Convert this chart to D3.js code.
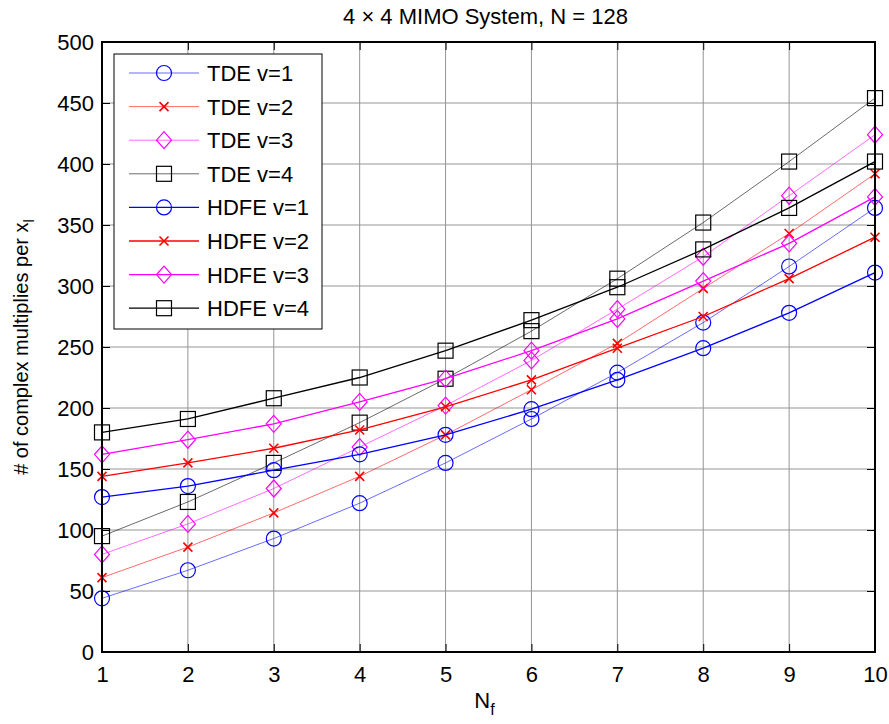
<!DOCTYPE html>
<html>
<head>
<meta charset="utf-8">
<script src="https://cdn.jsdelivr.net/npm/d3@7"></script>
<style>
  body { margin: 0; background: #fff; }
  svg text { font-family: "Liberation Sans", Arial, sans-serif; fill: #000; }
</style>
</head>
<body>
<script>
const WIDTH = 889;
const HEIGHT = 724;
const MARGIN = {top: 42, right: 14, bottom: 72, left: 102};

// x values (N_f)
const NF = [1, 2, 3, 4, 5, 6, 7, 8, 9, 10];
const Y_TICKS = [0, 50, 100, 150, 200, 250, 300, 350, 400, 450, 500];

// TDE series
const TDE_V1 = [44, 67, 93, 122, 155, 191, 229, 270, 316, 364];
const TDE_V2 = [61, 86, 114, 144, 178, 215, 253, 298, 343, 392];
const TDE_V3 = [80, 105, 134, 168, 202, 239, 281, 324, 374, 424];
const TDE_V4 = [95, 123, 155, 188, 224, 263, 306, 352, 402, 454];
// HDFE series
const HDFE_V1 = [127, 136, 149, 162, 178, 199, 223, 249, 278, 311];
const HDFE_V2 = [144, 155, 167, 182, 201, 223, 249, 275, 306, 340];
const HDFE_V3 = [162, 174, 187, 205, 224, 247, 273, 304, 335, 373];
const HDFE_V4 = [180, 191, 208, 225, 247, 272, 299, 330, 364, 402];

const LABELS = ["TDE v=1", "TDE v=2", "TDE v=3", "TDE v=4",
                "HDFE v=1", "HDFE v=2", "HDFE v=3", "HDFE v=4"];

const series = [
  {name: LABELS[0], values: TDE_V1, color: "#0000ff", marker: "circle", thin: true},
  {name: LABELS[1], values: TDE_V2, color: "#ff0000", marker: "x", thin: true},
  {name: LABELS[2], values: TDE_V3, color: "#ff00ff", marker: "diamond", thin: true},
  {name: LABELS[3], values: TDE_V4, color: "#000000", marker: "square", thin: true},
  {name: LABELS[4], values: HDFE_V1, color: "#0000ff", marker: "circle", thin: false},
  {name: LABELS[5], values: HDFE_V2, color: "#ff0000", marker: "x", thin: false},
  {name: LABELS[6], values: HDFE_V3, color: "#ff00ff", marker: "diamond", thin: false},
  {name: LABELS[7], values: HDFE_V4, color: "#000000", marker: "square", thin: false}
];

const svg = d3.select("body").append("svg")
  .attr("width", WIDTH)
  .attr("height", HEIGHT);

const xScale = d3.scaleLinear().domain([1, 10]).range([MARGIN.left, WIDTH - MARGIN.right]);
const yScale = d3.scaleLinear().domain([0, 500]).range([HEIGHT - MARGIN.bottom, MARGIN.top]);

const x0 = xScale.range()[0], x1 = xScale.range()[1];
const y0 = yScale.range()[0], y1 = yScale.range()[1];

// grid
const grid = svg.append("g").attr("stroke", "#959595").attr("stroke-width", 1);
grid.selectAll(".gx").data(NF.slice(1, -1)).enter().append("line")
  .attr("x1", d => xScale(d)).attr("x2", d => xScale(d))
  .attr("y1", y0).attr("y2", y1);
grid.selectAll(".gy").data(Y_TICKS.slice(1, -1)).enter().append("line")
  .attr("x1", x0).attr("x2", x1)
  .attr("y1", d => yScale(d)).attr("y2", d => yScale(d));

// markers
const drawMarker = (g, type, color, cx, cy) => {
  if (type === "circle") {
    g.append("circle").attr("cx", cx).attr("cy", cy).attr("r", 7.5)
      .attr("fill", "none").attr("stroke", color).attr("stroke-width", 1.2);
  } else if (type === "square") {
    g.append("rect").attr("x", cx - 7.5).attr("y", cy - 7.5).attr("width", 15).attr("height", 15)
      .attr("fill", "none").attr("stroke", color).attr("stroke-width", 1.2);
  } else if (type === "diamond") {
    g.append("path")
      .attr("d", `M${cx},${cy - 8.5}L${cx + 7.5},${cy}L${cx},${cy + 8.5}L${cx - 7.5},${cy}Z`)
      .attr("fill", "none").attr("stroke", color).attr("stroke-width", 1.2);
  } else {
    g.append("path")
      .attr("d", `M${cx - 4.5},${cy - 4.5}L${cx + 4.5},${cy + 4.5}M${cx + 4.5},${cy - 4.5}L${cx - 4.5},${cy + 4.5}`)
      .attr("fill", "none").attr("stroke", color).attr("stroke-width", 1.6);
  }
};

const line = d3.line().x((d, i) => xScale(NF[i])).y(d => yScale(d));

const plot = svg.append("g");
series.forEach(s => {
  const g = plot.append("g");
  g.append("path")
    .attr("d", line(s.values))
    .attr("fill", "none")
    .attr("stroke", s.color)
    .attr("stroke-width", s.thin ? 0.9 : 1.3)
    .attr("stroke-opacity", s.thin ? 0.65 : 1);
  s.values.forEach((v, i) => drawMarker(g, s.marker, s.color, xScale(NF[i]), yScale(v)));
});

// axes with inner ticks
const TICK = 8;
const axisB = d3.axisBottom(xScale).tickValues(NF).tickSize(-TICK).tickPadding(14).tickFormat(d3.format("d"));
const axisT = d3.axisTop(xScale).tickValues(NF).tickSize(-TICK).tickFormat("");
const axisL = d3.axisLeft(yScale).tickValues(Y_TICKS).tickSize(-TICK).tickPadding(8);
const axisR = d3.axisRight(yScale).tickValues(Y_TICKS).tickSize(-TICK).tickFormat("");

const styleAxis = g => {
  g.select(".domain").remove();
  g.selectAll(".tick line").attr("stroke", "#000").attr("stroke-width", 1);
  g.selectAll(".tick text").attr("font-size", 22).attr("font-family", "Liberation Sans, Arial, sans-serif");
};
svg.append("g").attr("transform", `translate(0,${y0})`).call(axisB).call(styleAxis);
svg.append("g").attr("transform", `translate(0,${y1})`).call(axisT).call(styleAxis);
svg.append("g").attr("transform", `translate(${x0},0)`).call(axisL).call(styleAxis);
svg.append("g").attr("transform", `translate(${x1},0)`).call(axisR).call(styleAxis);

svg.append("rect")
  .attr("x", x0).attr("y", y1).attr("width", x1 - x0).attr("height", y0 - y1)
  .attr("fill", "none").attr("stroke", "#000").attr("stroke-width", 2);

// title and labels
svg.append("text")
  .attr("x", (x0 + x1) / 2 - 3).attr("y", 24)
  .attr("text-anchor", "middle").attr("font-size", 22)
  .text("4 \u00d7 4 MIMO System, N = 128");

const xl = svg.append("text")
  .attr("x", (x0 + x1) / 2 - 4).attr("y", 708)
  .attr("text-anchor", "middle").attr("font-size", 22);
xl.append("tspan").text("N");
xl.append("tspan").attr("font-size", 16).attr("dy", 7).text("f");

const yl = svg.append("text")
  .attr("transform", `translate(28,${(y0 + y1) / 2}) rotate(-90)`)
  .attr("text-anchor", "middle").attr("font-size", 20);
yl.append("tspan").text("# of complex multiplies per x");
yl.append("tspan").attr("font-size", 15).attr("dy", 6).text("l");

// legend
const LEG = {x: 114, y: 54, w: 208, h: 275, row: 33.6, first: 19};
const legend = svg.append("g");
legend.append("rect")
  .attr("x", LEG.x).attr("y", LEG.y).attr("width", LEG.w).attr("height", LEG.h)
  .attr("fill", "#fff").attr("stroke", "#000").attr("stroke-width", 1);
series.forEach((s, i) => {
  const cy = LEG.y + LEG.first + i * LEG.row;
  const g = legend.append("g");
  g.append("line").attr("x1", LEG.x + 15).attr("x2", LEG.x + 85)
    .attr("y1", cy).attr("y2", cy)
    .attr("stroke", s.color)
    .attr("stroke-width", s.thin ? 0.9 : 1.3)
    .attr("stroke-opacity", s.thin ? 0.65 : 1);
  drawMarker(g, s.marker, s.color, LEG.x + 50, cy);
  g.append("text").attr("x", LEG.x + 93).attr("y", cy + 8)
    .attr("font-size", 22).text(s.name);
});
</script>
</body>
</html>
